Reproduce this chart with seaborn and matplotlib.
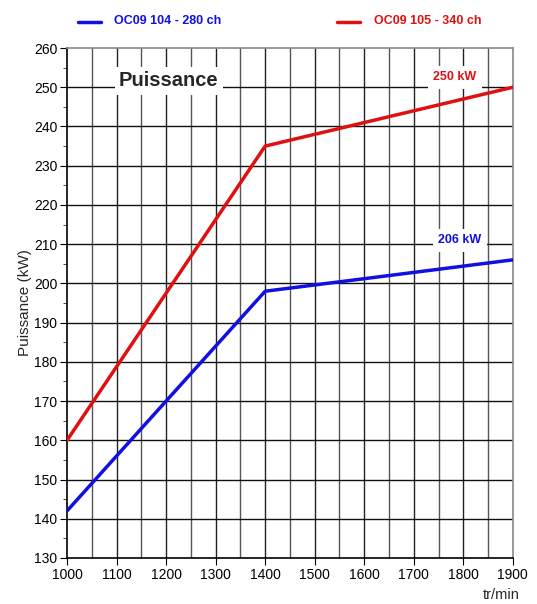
import matplotlib
matplotlib.use("Agg")
import matplotlib.pyplot as plt
import seaborn as sns
import pandas as pd
from matplotlib.ticker import MultipleLocator
from matplotlib.lines import Line2D

rpm = [1000, 1400, 1900]
power_104 = [142, 198, 206]
power_105 = [160, 235, 250]
series_names = ["OC09 104 - 280 ch", "OC09 105 - 340 ch"]
colors = ["#1010e0", "#e01010"]

df = pd.DataFrame({
    "rpm": rpm * 2,
    "power": power_104 + power_105,
    "serie": [series_names[0]] * 3 + [series_names[1]] * 3,
})

sns.set_style("white")
plt.rcParams['font.family'] = ['Liberation Sans', 'DejaVu Sans']

fig = plt.figure(figsize=(5.37, 6.04), dpi=100)
ax = fig.add_axes([0.1248, 0.0762, 0.8302, 0.8443])

sns.lineplot(data=df, x="rpm", y="power", hue="serie", palette=colors,
             linewidth=2.5, ax=ax, legend=False, zorder=5)

ax.set_xlim(1000, 1900)
ax.set_ylim(130, 260)
ax.xaxis.set_major_locator(MultipleLocator(100))
ax.yaxis.set_major_locator(MultipleLocator(10))
ax.yaxis.set_minor_locator(MultipleLocator(5))
ax.xaxis.set_minor_locator(MultipleLocator(50))
for x in range(1050, 1900, 50):
    ax.axvline(x, color="#222222" if x % 100 == 0 else "#555555", lw=1.0, zorder=1)
for y in range(140, 260, 10):
    ax.axhline(y, color="#111111", lw=1.0, zorder=1)

ax.tick_params(axis="both", which="major", length=5, labelsize=10, colors="black",
               direction="out", left=True, bottom=True, pad=2)
ax.tick_params(axis="y", which="minor", length=3, left=True)
ax.tick_params(axis="x", which="minor", length=0)
for s in ["left", "bottom"]:
    ax.spines[s].set_color("black")
    ax.spines[s].set_linewidth(1.2)
for s in ["top", "right"]:
    ax.spines[s].set_color("#888888")
    ax.spines[s].set_linewidth(1.2)

ax.set_xlabel("")
ax.set_ylabel("Puissance (kW)", fontsize=11, labelpad=1)
fig.text(0.968, 0.003, "tr/min", fontsize=10.5, ha="right", va="bottom")

ax.text(1205, 251.6, "Puissance", fontsize=14.5, fontweight="bold", ha="center", va="center",
        zorder=6, bbox=dict(facecolor="white", edgecolor="none", pad=3))
ax.text(1783, 252.6, "250 kW", fontsize=9, fontweight="bold", color=colors[1],
        ha="center", va="center", zorder=6,
        bbox=dict(facecolor="white", edgecolor="none", pad=4))
ax.text(1793, 211, "206 kW", fontsize=9, fontweight="bold", color=colors[0],
        ha="center", va="center", zorder=6,
        bbox=dict(facecolor="white", edgecolor="none", pad=4))

# legend at top
for i, (name, c, x0) in enumerate(zip(series_names, colors, [0.145, 0.628])):
    fig.add_artist(Line2D([x0, x0 + 0.043], [0.964, 0.964], color=c, lw=2.5,
                          transform=fig.transFigure))
    fig.text(x0 + 0.068, 0.965, name, color=c, fontsize=9, fontweight="bold",
             ha="left", va="center")

fig.savefig("out.png", dpi=100)
